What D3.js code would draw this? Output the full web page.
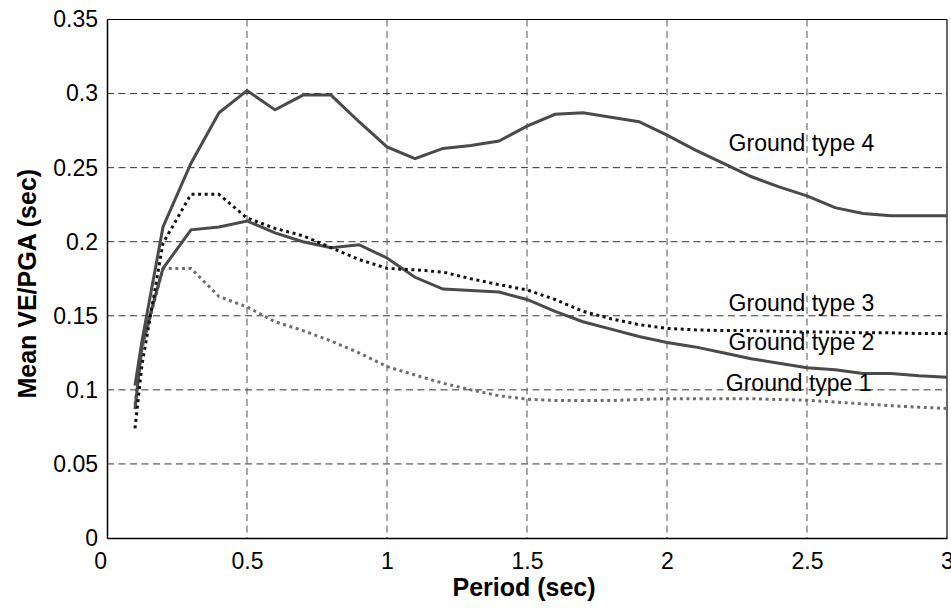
<!DOCTYPE html>
<html>
<head>
<meta charset="utf-8">
<script src="https://cdn.jsdelivr.net/npm/d3@7"></script>
<style>
  body { margin: 0; background: #fff; }
  text { font-family: "Liberation Sans", Arial, sans-serif; }
</style>
</head>
<body>
<div id="chart"></div>
<script>
// periods (sec)
var period = [0.1, 0.125, 0.2, 0.3, 0.4, 0.5, 0.6, 0.7, 0.8, 0.9, 1.0,
  1.1, 1.2, 1.3, 1.4, 1.5, 1.6, 1.7, 1.8, 1.9, 2.0,
  2.1, 2.2, 2.3, 2.4, 2.5, 2.6, 2.7, 2.8, 2.9, 3.0];

// mean VE/PGA per ground type
var gt4 = [0.103, 0.133, 0.210, 0.253, 0.287, 0.302, 0.289, 0.299, 0.299, 0.281, 0.264,
  0.256, 0.263, 0.265, 0.268, 0.278, 0.286, 0.287, 0.284, 0.281, 0.272,
  0.262, 0.253, 0.244, 0.237, 0.231, 0.223, 0.219, 0.2176, 0.2176, 0.2176];
var gt3 = [0.074, 0.117, 0.199, 0.232, 0.232, 0.216, 0.209, 0.204, 0.196, 0.188, 0.182,
  0.181, 0.1795, 0.175, 0.171, 0.1675, 0.161, 0.153, 0.148, 0.144, 0.1415,
  0.1405, 0.140, 0.140, 0.1395, 0.139, 0.139, 0.1385, 0.1385, 0.138, 0.138];
var gt2 = [0.087, 0.131, 0.182, 0.208, 0.210, 0.214, 0.206, 0.200, 0.196, 0.198, 0.189,
  0.176, 0.168, 0.167, 0.166, 0.161, 0.153, 0.146, 0.141, 0.136, 0.132,
  0.129, 0.125, 0.121, 0.118, 0.115, 0.1135, 0.111, 0.111, 0.1095, 0.1085];
var gt1 = [0.09, 0.128, 0.182, 0.182, 0.163, 0.156, 0.146, 0.140, 0.133, 0.125, 0.1157,
  0.110, 0.1045, 0.100, 0.096, 0.0937, 0.0928, 0.0928, 0.0928, 0.0935, 0.094,
  0.094, 0.094, 0.094, 0.0935, 0.093, 0.0918, 0.0905, 0.0893, 0.0883, 0.0874];

var xTicks = [0, 0.5, 1, 1.5, 2, 2.5, 3];
var yTicks = [0, 0.05, 0.1, 0.15, 0.2, 0.25, 0.3, 0.35];

var labelNames = ["Ground type 4", "Ground type 3", "Ground type 2", "Ground type 1"];
var labelX = [2.22, 2.22, 2.22, 2.21];
var labelY = [0.261, 0.1535, 0.1270, 0.0995];

var svgWidth = 951;
var svgHeight = 608;
var margin = { top: 19.5, right: 4, bottom: 70, left: 107 };
var width = svgWidth - margin.left - margin.right;
var height = svgHeight - margin.top - margin.bottom;

var svg = d3.select("#chart")
  .append("svg")
  .attr("width", svgWidth)
  .attr("height", svgHeight);

var chartGroup = svg.append("g")
  .attr("transform", `translate(${margin.left}, ${margin.top})`);

var xScale = d3.scaleLinear().domain([0, 3]).range([0, width]);
var yScale = d3.scaleLinear().domain([0, 0.35]).range([height, 0]);

// grid
chartGroup.append("g").selectAll("line")
  .data(yTicks.slice(1, -1))
  .enter().append("line")
  .attr("x1", 0).attr("x2", width)
  .attr("y1", d => yScale(d)).attr("y2", d => yScale(d))
  .attr("stroke", "#333").attr("stroke-width", 1)
  .attr("stroke-dasharray", "7,4.5");

chartGroup.append("g").selectAll("line")
  .data(xTicks.slice(1, -1))
  .enter().append("line")
  .attr("x1", d => xScale(d)).attr("x2", d => xScale(d))
  .attr("y1", 0).attr("y2", height)
  .attr("stroke", "#555").attr("stroke-width", 1)
  .attr("stroke-dasharray", "7,4.5");

// axes
var bottomAxis = d3.axisBottom(xScale).tickValues(xTicks).tickFormat(d3.format("")).tickSize(0).tickPadding(10);
var leftAxis = d3.axisLeft(yScale).tickValues(yTicks).tickFormat(d3.format("")).tickSize(0).tickPadding(9);

var xAxisG = chartGroup.append("g")
  .attr("transform", `translate(0, ${height})`)
  .call(bottomAxis);
var yAxisG = chartGroup.append("g").call(leftAxis);

[xAxisG, yAxisG].forEach(function(g) {
  g.select(".domain").attr("stroke", "#000").attr("stroke-width", 1.5);
  g.selectAll(".tick text")
    .attr("font-family", "'Liberation Sans', Arial, sans-serif")
    .attr("font-size", 23)
    .attr("fill", "#000");
});
xAxisG.selectAll(".tick text").attr("dy", "0.9em");
// matlab puts the "0" label a bit left of the corner
xAxisG.selectAll(".tick text").filter(d => d === 0).attr("dx", "-0.3em");

// box top/right
chartGroup.append("line").attr("x1", 0).attr("x2", width).attr("y1", 0).attr("y2", 0)
  .attr("stroke", "#000").attr("stroke-width", 1.2);
chartGroup.append("line").attr("x1", width).attr("x2", width).attr("y1", 0).attr("y2", height)
  .attr("stroke", "#000").attr("stroke-width", 1.2);

// series
var line = d3.line()
  .x((d, i) => xScale(period[i]))
  .y(d => yScale(d));

var series = [
  { values: gt1, color: "#6e6e6e", dash: "3,3.6" },
  { values: gt2, color: "#4a4a4a", dash: null },
  { values: gt3, color: "#111", dash: "3,3.6" },
  { values: gt4, color: "#4a4a4a", dash: null }
];

chartGroup.append("g").selectAll("path")
  .data(series)
  .enter().append("path")
  .attr("d", d => line(d.values))
  .attr("fill", "none")
  .attr("stroke", d => d.color)
  .attr("stroke-width", 3)
  .attr("stroke-dasharray", d => d.dash);

// curve labels
chartGroup.append("g").selectAll("text")
  .data(labelNames)
  .enter().append("text")
  .attr("x", (d, i) => xScale(labelX[i]))
  .attr("y", (d, i) => yScale(labelY[i]))
  .attr("font-size", "23px")
  .attr("fill", "#000")
  .text(d => d);

// axis labels
chartGroup.append("text")
  .attr("transform", `translate(${width / 2 - 3}, ${height + 58})`)
  .attr("text-anchor", "middle")
  .attr("font-size", "25px")
  .attr("font-weight", "bold")
  .text("Period (sec)");

chartGroup.append("text")
  .attr("transform", "rotate(-90)")
  .attr("x", 0 - (height / 2) - 5)
  .attr("y", 36 - margin.left)
  .attr("text-anchor", "middle")
  .attr("font-size", "25px")
  .attr("font-weight", "bold")
  .text("Mean VE/PGA (sec)");
</script>
</body>
</html>
